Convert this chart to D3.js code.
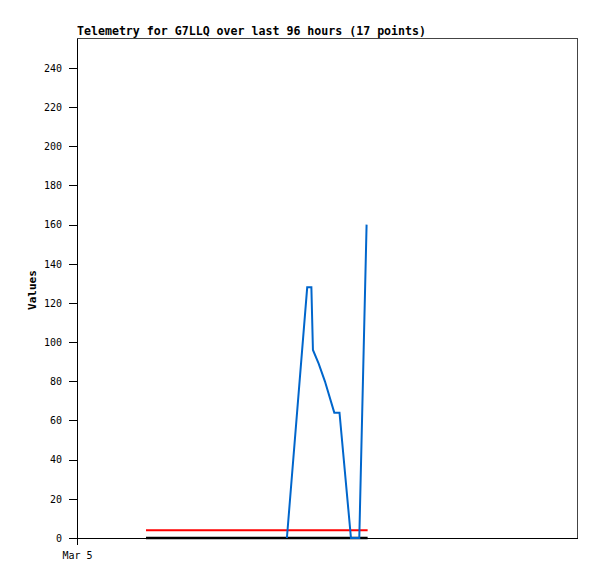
<!DOCTYPE html>
<html>
<head>
<meta charset="utf-8">
<script src="https://cdn.jsdelivr.net/npm/d3@7"></script>
<style>
	body { margin: 0; background: #fff; }
	svg { display: block; }
</style>
</head>
<body>
<svg id="chart" width="597" height="579"></svg>
<script>
// Telemetry chart: hours are counted from Mar 5 00:00 (UTC)
const title = 'Telemetry for G7LLQ over last 96 hours (17 points)';
const yLabel = 'Values';
const yTicks = [0, 20, 40, 60, 80, 100, 120, 140, 160, 180, 200, 220, 240];

const blueHours = [40.3, 44.2, 45.0, 45.3, 46.4, 47.6, 49.4, 50.4, 52.6, 54.2, 55.6];
const blueValues = [0, 128, 128, 96, 89, 80, 64, 64, 0, 0, 160];
const redHours = [13.25, 55.8];
const redValues = [4, 4];
const blackHours = [13.25, 55.8];
const blackValues = [0, 0];

(function () {
	const svg = d3.select('#chart');
	const margin = { top: 38, right: 20, bottom: 41, left: 77 };
	const width = 597 - margin.left - margin.right;
	const height = 579 - margin.top - margin.bottom;
	const start = Date.UTC(2024, 2, 5);
	const hour = 3600 * 1000;

	const g = svg.append('g')
		.attr('transform', 'translate(' + margin.left + ',' + margin.top + ')');

	const x = d3.scaleUtc().domain([new Date(start), new Date(start + 96 * hour)]).range([0, width]);
	const y = d3.scaleLinear().domain([0, 255.3]).range([height, 0]);

	const font = '"DejaVu Sans Mono", "Liberation Mono", monospace';

	// Frame
	g.append('rect').attr('width', width).attr('height', height)
		.attr('fill', 'none').attr('stroke', '#444').attr('stroke-width', 1)
		.attr('shape-rendering', 'crispEdges');

	// Axes
	g.append('g')
		.call(d3.axisLeft(y).tickValues(yTicks).tickSize(8).tickSizeOuter(0))
		.call(ax => ax.selectAll('text').attr('font-size', 10).attr('font-family', font).attr('fill', '#000').attr('x', -15))
		.call(ax => ax.selectAll('line, path').attr('stroke', '#000').attr('shape-rendering', 'crispEdges'));
	g.append('g')
		.attr('transform', 'translate(0,' + height + ')')
		.call(d3.axisBottom(x).tickValues([new Date(start)]).tickFormat(d3.utcFormat('%b %-d')).tickSize(7).tickSizeOuter(0))
		.call(ax => ax.selectAll('text').attr('font-size', 10).attr('font-family', font).attr('fill', '#000').attr('y', 14))
		.call(ax => ax.selectAll('line, path').attr('stroke', '#000').attr('shape-rendering', 'crispEdges'));

	// Title and axis label
	svg.append('text')
		.attr('x', margin.left).attr('y', 35)
		.attr('font-family', font).attr('font-size', 11.6).attr('font-weight', 'bold')
		.text(title);
	svg.append('text')
		.attr('transform', 'translate(36,290) rotate(-90)')
		.attr('text-anchor', 'middle')
		.attr('font-family', font).attr('font-size', 11).attr('font-weight', 'bold')
		.text(yLabel);

	// Series
	const line = d3.line().x(d => x(new Date(start + d[0] * hour))).y(d => y(d[1]));
	const series = [
		{ hours: blackHours, values: blackValues, color: '#000', w: 2.5 },
		{ hours: redHours, values: redValues, color: '#ff0000', w: 2 },
		{ hours: blueHours, values: blueValues, color: '#0066cc', w: 2 }
	];
	series.forEach(s => {
		g.append('path')
			.attr('d', line(s.hours.map((h, i) => [h, s.values[i]])))
			.attr('fill', 'none').attr('stroke', s.color).attr('stroke-width', s.w);
	});
})();
</script>
</body>
</html>
